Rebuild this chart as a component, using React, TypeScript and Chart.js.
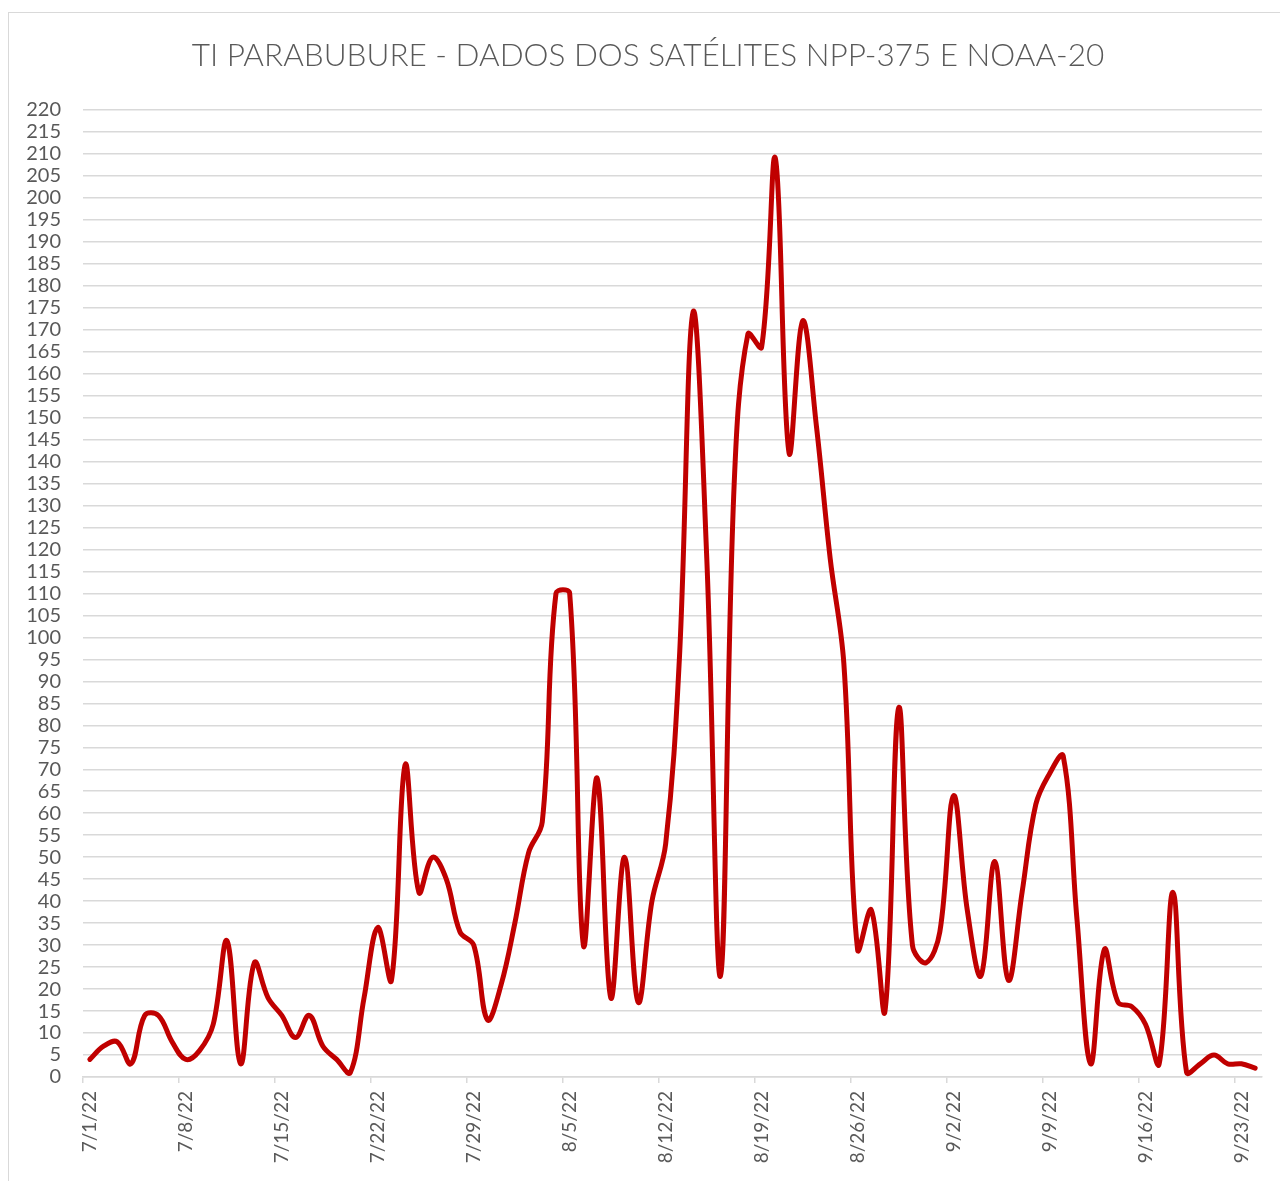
import React, { useEffect, useRef } from "react";
import { Chart, registerables } from "chart.js";

Chart.register(...registerables);

const TITLE = "TI PARABUBURE - DADOS DOS SATÉLITES NPP-375 E NOAA-20";

const dates: string[] = [
  "7/1/22", "7/2/22", "7/3/22", "7/4/22", "7/5/22", "7/6/22", "7/7/22", "7/8/22", "7/9/22", "7/10/22",
  "7/11/22", "7/12/22", "7/13/22", "7/14/22", "7/15/22", "7/16/22", "7/17/22", "7/18/22", "7/19/22", "7/20/22",
  "7/21/22", "7/22/22", "7/23/22", "7/24/22", "7/25/22", "7/26/22", "7/27/22", "7/28/22", "7/29/22", "7/30/22",
  "7/31/22", "8/1/22", "8/2/22", "8/3/22", "8/4/22", "8/5/22", "8/6/22", "8/7/22", "8/8/22", "8/9/22",
  "8/10/22", "8/11/22", "8/12/22", "8/13/22", "8/14/22", "8/15/22", "8/16/22", "8/17/22", "8/18/22", "8/19/22",
  "8/20/22", "8/21/22", "8/22/22", "8/23/22", "8/24/22", "8/25/22", "8/26/22", "8/27/22", "8/28/22", "8/29/22",
  "8/30/22", "8/31/22", "9/1/22", "9/2/22", "9/3/22", "9/4/22", "9/5/22", "9/6/22", "9/7/22", "9/8/22",
  "9/9/22", "9/10/22", "9/11/22", "9/12/22", "9/13/22", "9/14/22", "9/15/22", "9/16/22", "9/17/22", "9/18/22",
  "9/19/22", "9/20/22", "9/21/22", "9/22/22", "9/23/22", "9/24/22",
];

const focos: number[] = [
  4, 7, 8, 3, 14, 14, 8, 4, 6, 12,
  31, 3, 26, 18, 14, 9, 14, 7, 4, 1,
  18, 34, 22, 71, 42, 50, 45, 33, 30, 13,
  21, 35, 51, 58, 110, 110, 30, 68, 18, 50,
  17, 40, 53, 95, 174, 118, 23, 135, 169, 166,
  209, 142, 172, 148, 118, 94, 29, 38, 15, 84,
  30, 26, 33, 64, 38, 23, 49, 22, 42, 62,
  69, 73, 36, 3, 29, 17, 16, 12, 3, 42,
  1, 3, 5, 3, 3, 2,
];

const Y_MIN = 0;
const Y_MAX = 220;
const Y_STEP = 5;
const X_LABEL_EVERY = 7;

export default function App() {
  const ref = useRef<HTMLCanvasElement | null>(null);

  useEffect(() => {
    document.body.style.overflow = "hidden";
    const canvas = ref.current;
    if (!canvas) return;
    const chart = new Chart(canvas, {
      type: "line",
      data: {
        labels: dates,
        datasets: [
          {
            label: "Focos",
            data: focos,
            borderColor: "#C00000",
            backgroundColor: "#C00000",
            borderWidth: 5,
            pointRadius: 0,
            tension: 0.38,
            borderCapStyle: "round",
            borderJoinStyle: "round",
            fill: false,
            yAxisID: "y",
          },
        ],
      },
      options: {
        animation: false,
        responsive: false,
        maintainAspectRatio: false,
        layout: { padding: 0 },
        plugins: {
          legend: { display: false },
          tooltip: { enabled: false },
          title: {
            display: true,
            text: TITLE,
            color: "#595959",
            font: { family: "Lato", size: 31.5, weight: "300" as any },
            padding: { top: 24, bottom: 35 },
          },
        },
        scales: {
          x: {
            type: "category",
            offset: true,
            grid: {
              display: true,
              offset: true,
              drawOnChartArea: false,
              drawTicks: true,
              tickLength: 6,
              lineWidth: 1.5,
              color: (ctx: any) =>
                typeof ctx.index === "number" && ctx.index % X_LABEL_EVERY === 0 ? "#d9d9d9" : "rgba(0,0,0,0)",
            },
            border: { display: true, color: "#d9d9d9", width: 1.5 },
            ticks: {
              autoSkip: false,
              minRotation: 90,
              maxRotation: 90,
              padding: 8,
              color: "#595959",
              font: { family: "Lato", size: 19 },
              callback: (_v: any, i: number) => (i % X_LABEL_EVERY === 0 ? dates[i] : ""),
            },
            afterFit: (scale: any) => {
              scale.height = 109;
            },
          },
          y: {
            type: "linear",
            position: "left",
            min: Y_MIN,
            max: Y_MAX,
            grid: {
              color: "#d9d9d9",
              lineWidth: 1.5,
              drawTicks: false,
            },
            border: { display: false },
            ticks: {
              stepSize: Y_STEP,
              maxTicksLimit: 100,
              autoSkip: false,
              padding: 22,
              color: "#595959",
              font: { family: "Lato", size: 20 },
            },
            afterFit: (scale: any) => {
              scale.width = 74;
            },
          },
          spacer: {
            type: "linear",
            position: "right",
            display: true,
            min: 0,
            max: 1,
            grid: { display: false, drawTicks: false },
            border: { display: false },
            ticks: { display: false },
            afterFit: (scale: any) => {
              scale.width = 25;
            },
          },
        },
      },
    });
    return () => chart.destroy();
  }, []);

  return (
    <div
      style={{
        position: "absolute",
        left: 8,
        top: 12,
        width: 1280,
        height: 1175,
        border: "1px solid #d9d9d9",
        boxSizing: "border-box",
        background: "#ffffff",
      }}
    >
      <canvas ref={ref} width={1278} height={1173} style={{ display: "block", width: 1278, height: 1173 }} />
    </div>
  );
}
